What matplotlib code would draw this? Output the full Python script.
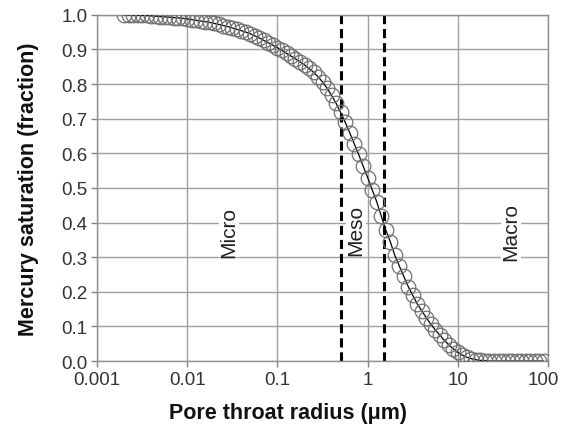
import matplotlib
matplotlib.use("Agg")
import matplotlib.pyplot as plt
import matplotlib.transforms as mtransforms
from matplotlib.ticker import FixedLocator, FixedFormatter

plt.rcParams['font.family'] = ['Liberation Sans', 'DejaVu Sans']

# pore throat radius (um), log spaced
radius = [
    0.00200, 0.00224, 0.00251, 0.00282, 0.00316, 0.00355, 0.00398,
    0.00447, 0.00501, 0.00562, 0.00631, 0.00708, 0.00794, 0.00891,
    0.0100, 0.0112, 0.0126, 0.0141, 0.0158, 0.0178, 0.0200, 0.0224,
    0.0251, 0.0282, 0.0316, 0.0355, 0.0398, 0.0447, 0.0501, 0.0562,
    0.0631, 0.0708, 0.0794, 0.0891,
    0.100, 0.112, 0.126, 0.141, 0.158, 0.178, 0.200, 0.224,
    0.251, 0.282, 0.316, 0.355, 0.398, 0.447, 0.501, 0.562,
    0.631, 0.708, 0.794, 0.891,
    1.00, 1.12, 1.26, 1.41, 1.58, 1.78, 2.00, 2.24,
    2.51, 2.82, 3.16, 3.55, 3.98, 4.47, 5.01, 5.62,
    6.31, 7.08, 7.94, 8.91,
    10.0, 11.2, 12.6, 14.1, 15.8, 17.8, 20.0, 22.4,
    25.1, 28.2, 31.6, 35.5, 39.8, 44.7, 50.1, 56.2,
    63.1, 70.8, 79.4, 89.1,
]

# mercury saturation (fraction)
saturation = [
    1.000, 1.000, 0.999, 0.999, 0.998, 0.998, 0.997,
    0.996, 0.995, 0.994, 0.993, 0.992, 0.991, 0.990,
    0.988, 0.986, 0.984, 0.982, 0.980, 0.978, 0.975, 0.972,
    0.969, 0.966, 0.962, 0.958, 0.954, 0.950, 0.945, 0.939,
    0.933, 0.926, 0.919, 0.912,
    0.905, 0.897, 0.889, 0.881, 0.873, 0.864, 0.855, 0.845,
    0.834, 0.821, 0.806, 0.788, 0.767, 0.744, 0.718, 0.690,
    0.660, 0.628, 0.597, 0.563,
    0.530, 0.495, 0.460, 0.420, 0.380, 0.345, 0.305, 0.275,
    0.245, 0.215, 0.190, 0.165, 0.145, 0.125, 0.107, 0.090,
    0.075, 0.060, 0.047, 0.035,
    0.025, 0.017, 0.011, 0.007, 0.004, 0.002, 0.001, 0.000,
    0.000, 0.000, 0.000, 0.000, 0.000, 0.000, 0.000, 0.000,
    0.000, 0.000, 0.000, 0.000,
]

# pore class boundaries (um)
boundaries = [0.5, 1.5]
classes = ["Micro", "Meso", "Macro"]
class_x = [0.029, 0.74, 39.0]
class_y = [0.375, 0.38, 0.375]

x_ticks = [0.001, 0.01, 0.1, 1, 10, 100]
x_tick_labels = ["0.001", "0.01", "0.1", "1", "10", "100"]
y_ticks = [0.0, 0.1, 0.2, 0.3, 0.4, 0.5, 0.6, 0.7, 0.8, 0.9, 1.0]

fig = plt.figure(figsize=(5.61, 4.27), dpi=100)
ax = fig.add_axes([0.173, 0.152, 0.804, 0.811])

ax.set_xscale('log')
ax.set_xlim(0.001, 100)
ax.set_ylim(0.0, 1.0)

ax.grid(True, which='major', color='#a0a0a0', linewidth=1.0)
ax.set_axisbelow(True)

for b in boundaries:
    ax.axvline(b, color='black', linestyle=(0, (3, 1.6)), linewidth=2.2, zorder=2)

ax.plot(radius, saturation, color='black', linewidth=0.9, zorder=3)
ax.plot(radius, saturation, linestyle='none', marker='o', markersize=10.5,
        markerfacecolor='none', markeredgecolor='#707070',
        markeredgewidth=0.9, zorder=4)

for name, cx, cy in zip(classes, class_x, class_y):
    ax.text(cx, cy, name, rotation=90, ha='center', va='center',
            fontsize=15, color='#222222', zorder=5,
            bbox=dict(facecolor='white', edgecolor='none', pad=0.5))

ax.xaxis.set_major_locator(FixedLocator(x_ticks))
ax.xaxis.set_major_formatter(FixedFormatter(x_tick_labels))
ax.xaxis.set_minor_locator(FixedLocator([]))
ax.set_yticks(y_ticks)
ax.set_yticklabels(["%.1f" % v for v in y_ticks])

ax.tick_params(axis='both', which='major', direction='out', length=4,
               width=1.0, color='#808080', labelsize=13.5,
               labelcolor='#333333', pad=3)

# nudge the last x label so it stays inside the figure
last = ax.get_xticklabels()[-1]
last.set_transform(last.get_transform() +
                   mtransforms.ScaledTranslation(-5 / 100, 0, fig.dpi_scale_trans))

for side in ['left', 'bottom', 'top', 'right']:
    ax.spines[side].set_color('#909090')
    ax.spines[side].set_linewidth(1.0)

ax.set_xlabel("Pore throat radius (\u03bcm)", fontsize=15.5, fontweight='bold',
              color='#111111')
ax.set_ylabel("Mercury saturation (fraction)", fontsize=15.5, fontweight='bold',
              color='#111111')
ax.xaxis.set_label_coords(0.424, -0.118)
ax.yaxis.set_label_coords(-0.128, 0.5)

fig.savefig("out.png", dpi=100)
